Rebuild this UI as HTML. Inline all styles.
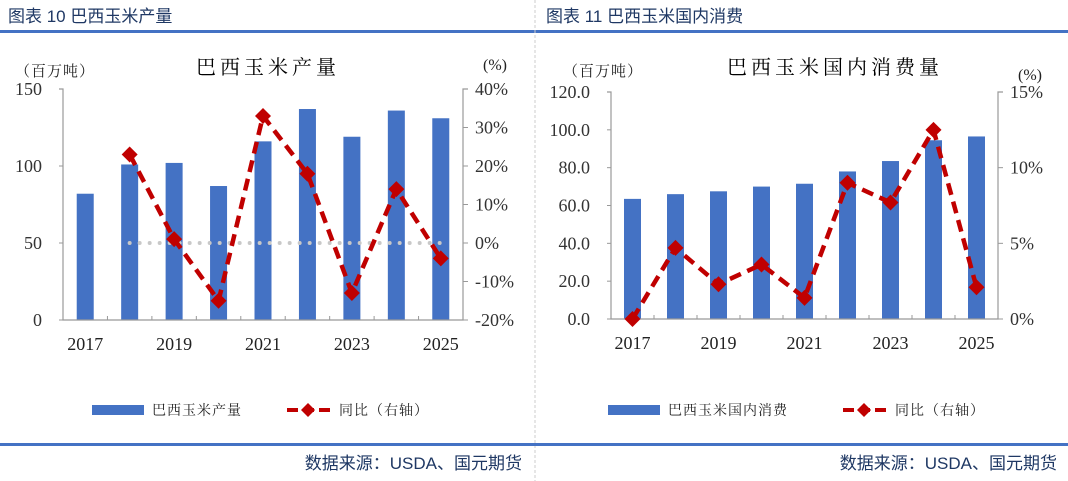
<!DOCTYPE html>
<html><head><meta charset="utf-8">
<style>
body{margin:0;background:#fff;}
svg{display:block;font-family:"Liberation Serif","Noto Serif CJK SC",serif;}
.cn{font-family:"Liberation Sans","Noto Sans CJK SC",sans-serif;}
</style></head>
<body>
<svg id="s" width="1068" height="481" viewBox="0 0 1068 481">
<text class="cn" x="8" y="22" font-size="17" fill="#1F3864">图表 10 巴西玉米产量</text>
<text class="cn" x="546" y="22" font-size="17" fill="#1F3864">图表 11 巴西玉米国内消费</text>
<rect x="0" y="30" width="1068" height="3" fill="#4472C4"/>
<line x1="535" y1="0" x2="535" y2="481" stroke="#ccc" stroke-dasharray="3,2"/>
<rect x="0" y="443" width="1068" height="3" fill="#4472C4"/>
<text class="cn" x="522" y="469" font-size="17" fill="#1F3864" text-anchor="end">数据来源：USDA、国元期货</text>
<text class="cn" x="1057" y="469" font-size="17" fill="#1F3864" text-anchor="end">数据来源：USDA、国元期货</text>
<g id="g1"></g>
<g id="g2"></g>
</svg>
<script>
const years = [2017,2018,2019,2020,2021,2022,2023,2024,2025];
const xTickLabels = ["2017","2019","2021","2023","2025"];
const prodValues = [82,101,102,87,116,137,119,136,131];
const prodGrowth = [null,23,1,-15,33,18,-13,14,-4];
const prodLeftTicks = [0,50,100,150];
const prodRightTicks = [-20,-10,0,10,20,30,40];
const consValues = [63.5,66,67.5,70,71.5,78,83.5,94.5,96.5];
const consGrowth = [0,4.7,2.3,3.6,1.4,9.0,7.7,12.5,2.1];
const consLeftTicks = [0,20,40,60,80,100,120];
const consRightTicks = [0,5,10,15];

const NS="http://www.w3.org/2000/svg";
function mk(p,tag,attrs,txt){const e=document.createElementNS(NS,tag);for(const k in attrs)e.setAttribute(k,attrs[k]);if(txt!==undefined)e.textContent=txt;p.appendChild(e);return e;}

function drawChart(g,cfg){
  const {x0,x1,yTop,yBot,lMin,lMax,rMin,rMax,vals,growth,lTicks,rTicks,lFmt,title,titleX,unitY,pctY,barName,zeroLine,legX}=cfg;
  const n=vals.length, step=(x1-x0)/n;
  const xs=i=>x0+step*(i+0.5);
  const yL=v=>yBot-(v-lMin)/(lMax-lMin)*(yBot-yTop);
  const yR=v=>yBot-(v-rMin)/(rMax-rMin)*(yBot-yTop);
  let t=mk(g,'text',{x:titleX,y:74,'font-size':20,'letter-spacing':4,'text-anchor':'middle',fill:'#000'},title);
  
  t=mk(g,'text',{x:x0-8,y:unitY,'font-size':15,'letter-spacing':1,'text-anchor':'middle',fill:'#222'},'（百万吨）');
  
  t=mk(g,'text',{x:x1+32,y:pctY,'font-size':16,'text-anchor':'middle',fill:'#222'},'(%)');
  
  vals.forEach((v,i)=>{const r=mk(g,'rect',{x:xs(i)-8.5,y:yL(v),width:17,height:yBot-yL(v),fill:'#4472C4'});
    });
  if(zeroLine){const l=mk(g,'line',{x1:xs(1),x2:xs(n-1),y1:yR(0),y2:yR(0),stroke:'#c8c8c8','stroke-width':4,'stroke-dasharray':'0,10','stroke-linecap':'round'});
    }
  let a=mk(g,'path',{d:`M${x0-4},${yTop}H${x0}V${yBot}H${x1}V${yTop}H${x1+5}`,stroke:'#999',fill:'none','stroke-width':1.2});
  
  for(let i=0;i<=n;i++){mk(g,'line',{x1:x0+step*i,x2:x0+step*i,y1:yBot,y2:yBot-4,stroke:'#999'});}
  lTicks.forEach(v=>{mk(g,'line',{x1:x0-4,x2:x0,y1:yL(v),y2:yL(v),stroke:'#999'});
    const e=mk(g,'text',{x:x0-21,y:yL(v)+6,'font-size':18,'text-anchor':'end',fill:'#333'},lFmt(v));
    });
  rTicks.forEach(v=>{mk(g,'line',{x1:x1,x2:x1+5,y1:yR(v),y2:yR(v),stroke:'#999'});
    const e=mk(g,'text',{x:x1+12,y:yR(v)+6,'font-size':18,fill:'#333'},v+'%');
    });
  xTickLabels.forEach((lab,k)=>{const e=mk(g,'text',{x:xs(k*2),y:yBot+30,'font-size':18,'text-anchor':'middle',fill:'#222'},lab);
    });
  const pts=[];growth.forEach((v,i)=>{if(v!==null)pts.push([xs(i),yR(v)]);});
  const pl=mk(g,'polyline',{points:pts.map(p=>p.join(',')).join(' '),fill:'none',stroke:'#C00000','stroke-width':4.5,'stroke-dasharray':'12,7'});
  
  pts.forEach(p=>{const d=mk(g,'path',{d:`M${p[0]},${p[1]-8}l8,8l-8,8l-8,-8z`,fill:'#C00000'});
    });
  const lg=mk(g,'g',{});
  mk(lg,'rect',{x:legX,y:405,width:52,height:10,fill:'#4472C4'});
  let lt=mk(lg,'text',{x:legX+60,y:415,'font-size':14,'letter-spacing':1,fill:'#222'},barName);
  
  const mx=legX+(barName.length>6?235:195);
  mk(lg,'line',{x1:mx,x2:mx+43,y1:410,y2:410,stroke:'#C00000','stroke-width':4,'stroke-dasharray':'11,5'});
  mk(lg,'path',{d:`M${mx+21},403l7,7l-7,7l-7,-7z`,fill:'#C00000'});
  lt=mk(lg,'text',{x:mx+52,y:415,'font-size':14,'letter-spacing':1,fill:'#222'},'同比（右轴）');
  
}
drawChart(document.getElementById('g1'),{x0:63,x1:463,yTop:89,yBot:320,lMin:0,lMax:150,rMin:-20,rMax:40,
  vals:prodValues,growth:prodGrowth,lTicks:prodLeftTicks,rTicks:prodRightTicks,lFmt:v=>String(v),
  title:'巴西玉米产量',titleX:268,unitY:76,pctY:70,barName:'巴西玉米产量',zeroLine:true,legX:92});
drawChart(document.getElementById('g2'),{x0:611,x1:998,yTop:92,yBot:319,lMin:0,lMax:120,rMin:0,rMax:15,
  vals:consValues,growth:consGrowth,lTicks:consLeftTicks,rTicks:consRightTicks,lFmt:v=>v.toFixed(1),
  title:'巴西玉米国内消费量',titleX:835,unitY:76,pctY:80,barName:'巴西玉米国内消费',zeroLine:false,legX:608});
</script>
</body></html>
